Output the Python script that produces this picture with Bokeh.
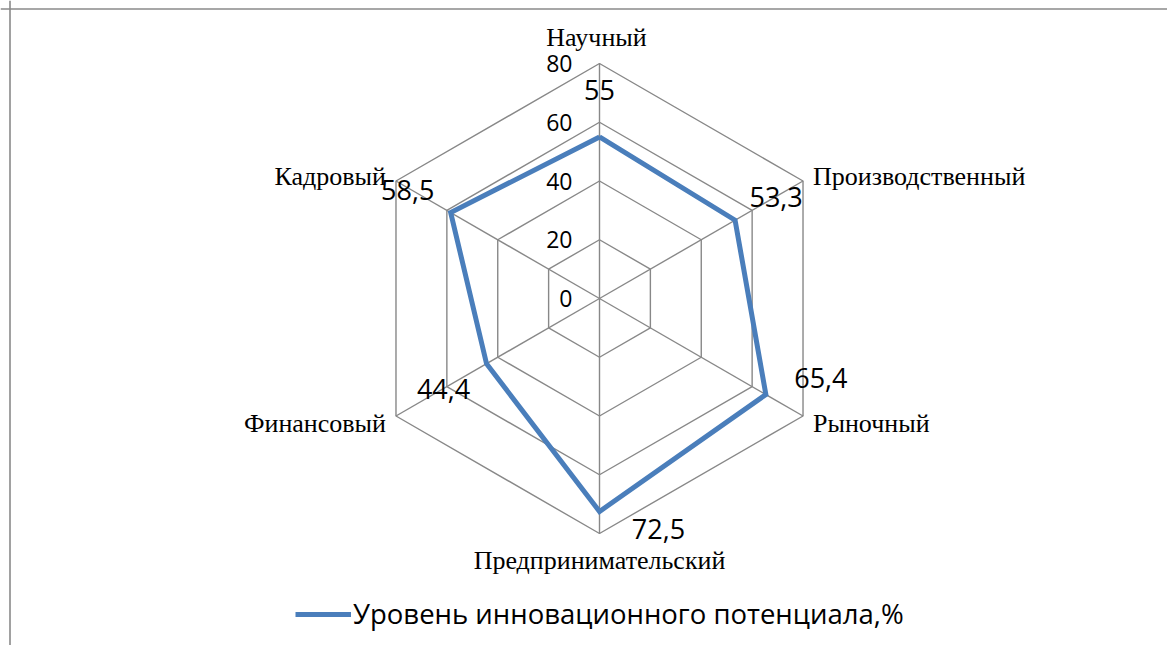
import numpy as np
from bokeh.plotting import figure
from bokeh.models import Range1d, Span, ColumnDataSource, Legend, LegendItem
from bokeh.core.properties import value
from bokeh.embed import file_html
from bokeh.resources import INLINE

# ---------------- data ----------------
categories = ["Научный", "Производственный", "Рыночный",
              "Предпринимательский", "Финансовый", "Кадровый"]
values = [55, 53.3, 65.4, 72.5, 44.4, 58.5]
value_labels = ["55", "53,3", "65,4", "72,5", "44,4", "58,5"]
ticks = [0, 20, 40, 60, 80]
tick_labels = ["0", "20", "40", "60", "80"]
series_name = "Уровень инновационного потенциала,%"

# ---------------- styles / layout ----------------
W, H = 1167, 645          # figure size (page minus 8px margin)
CX, CY = 599, 298         # hub position inside the figure, px
R_PX = 235.0              # radius of the outer ring, px
PX = R_PX / ticks[-1]     # px per unit

GRID_COLOR = "#888888"
SERIES_COLOR = "#4A7EBB"

# label offsets in screen px (dx right, dy down)
cat_offsets = [(-3, -26, "center"), (10, -5, "left"), (10, 7, "left"),
               (0, 27, "center"), (-10, 7, "right"), (-10, -5, "right")]
val_offsets = [(0, -47), (41, -23), (55, -17), (59, 18), (-43, 25), (-43, -23)]

n = len(categories)
angles = np.deg2rad(90 - 360.0 / n * np.arange(n))

p = figure(width=W, height=H, output_backend="svg", toolbar_location=None,
           min_border=0, outline_line_color=None,
           x_range=Range1d(-CX / PX, (W - CX) / PX),
           y_range=Range1d((CY - H) / PX, CY / PX))
p.axis.visible = False
p.grid.visible = False
p.background_fill_color = "white"
p.border_fill_color = "white"

# frame of the chart area (top and left edges visible in the reference)
p.add_layout(Span(location=(CY - 8.5) / PX, dimension="width",
                  line_color="#8a8a8a", line_width=1.6))
p.add_layout(Span(location=(-CX + 9.5) / PX, dimension="height",
                  line_color="#8a8a8a", line_width=1.6))

# grid rings
ring_xs, ring_ys = [], []
for t in ticks[1:]:
    ring_xs.append(list(t * np.cos(angles)) + [t * np.cos(angles[0])])
    ring_ys.append(list(t * np.sin(angles)) + [t * np.sin(angles[0])])
# spokes
for a in angles:
    ring_xs.append([0, ticks[-1] * np.cos(a)])
    ring_ys.append([0, ticks[-1] * np.sin(a)])
p.multi_line(ring_xs, ring_ys, line_color=GRID_COLOR, line_width=1.4)

# tick labels along the top spoke
p.text(x=[-27 / PX] * len(ticks), y=ticks, text=tick_labels,
       text_font=value("Open Sans"), text_font_size="23px",
       text_align="right", text_baseline="middle", text_color="#000000")

# series polygon
vx = [v * np.cos(a) for v, a in zip(values, angles)]
vy = [v * np.sin(a) for v, a in zip(values, angles)]
series = p.line(vx + [vx[0]], vy + [vy[0]], line_color=SERIES_COLOR,
                line_width=5, line_join="miter")

# data labels
p.text(x=[x + d[0] / PX for x, d in zip(vx, val_offsets)],
       y=[y - d[1] / PX for y, d in zip(vy, val_offsets)],
       text=value_labels, text_font=value("Open Sans"), text_font_size="27px",
       text_align="center", text_baseline="middle", text_color="#000000")

# category labels
R = ticks[-1]
cat_src = ColumnDataSource(dict(
    x=[R * np.cos(a) + o[0] / PX for a, o in zip(angles, cat_offsets)],
    y=[R * np.sin(a) - o[1] / PX for a, o in zip(angles, cat_offsets)],
    text=categories,
    align=[o[2] for o in cat_offsets],
))
p.text(x="x", y="y", text="text", source=cat_src, text_align="align",
       text_font=value("Liberation Serif"), text_font_size="26px",
       text_baseline="middle", text_color="#000000")

# legend
legend = Legend(items=[LegendItem(label=series_name, renderers=[series])],
                location=(295, 13), orientation="horizontal",
                glyph_width=56, glyph_height=32, label_height=32,
                label_standoff=2, padding=0, margin=0, spacing=0,
                border_line_color=None, background_fill_alpha=0,
                label_text_font="Open Sans", label_text_font_size="27.5px",
                label_text_color="#000000", label_text_baseline="middle")
p.add_layout(legend)

open("out.html", "w").write(file_html(p, INLINE))
